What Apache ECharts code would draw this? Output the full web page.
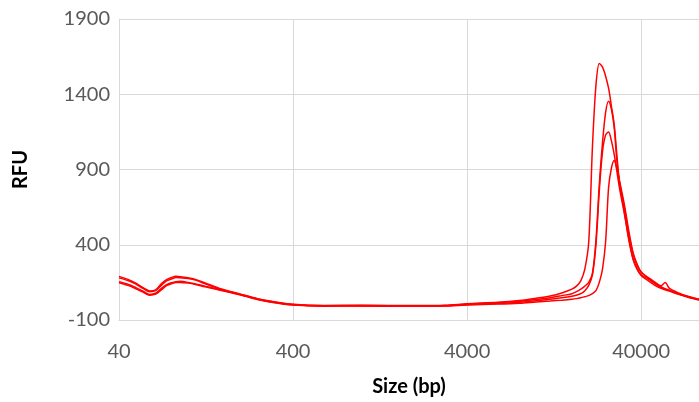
<!DOCTYPE html>
<html>
<head>
<meta charset="utf-8">
<script src="https://cdn.jsdelivr.net/npm/echarts@6/dist/echarts.min.js"></script>
<style>
  html, body { margin: 0; padding: 0; background: #fff; }
  #chart { width: 699px; height: 402px; }
</style>
</head>
<body>
<div id="chart"></div>
<script>
// fragment size (bp), shared by all four traces
const sizes = [40, 45, 50, 55, 60, 65, 70, 75, 80, 85, 90, 100, 110, 125, 150, 175, 200, 250, 300, 400,
  600, 1000, 2000, 3000, 4000, 6000, 8000, 10000, 12000, 14000, 16000, 17000, 18000, 19000, 20000,
  21000, 22000, 23000, 24000, 25000, 26000, 27000, 28000, 29000, 30000, 32000, 34000, 36000, 38000,
  40000, 44000, 48000, 52000, 55000, 58000, 65000, 75000, 86000];

// RFU per trace
const traceA = [190, 170, 145, 115, 93, 100, 140, 168, 182, 190, 188, 180, 170, 146, 112, 90, 72, 42, 25, 5,
  -3, -2, -4, -2, 8, 18, 30, 45, 60, 80, 105, 125, 160, 240, 420,
  1050, 1460, 1605, 1580, 1520, 1440, 1320, 1200, 1000, 820, 620, 430, 300, 235,
  200, 172, 145, 122, 108, 98, 76, 54, 37];
const traceB = [180, 162, 138, 110, 88, 95, 130, 160, 172, 182, 180, 175, 165, 140, 108, 86, 70, 40, 23, 3,
  -5, -4, -6, -4, 5, 14, 24, 36, 48, 62, 75, 88, 105, 125, 150,
  210, 430, 800, 1080, 1280, 1354, 1300, 1180, 960, 820, 650, 470, 335, 262,
  215, 182, 152, 128, 150, 112, 82, 57, 38];
const traceC = [155, 138, 115, 92, 70, 78, 110, 135, 148, 155, 157, 150, 140, 125, 104, 84, 68, 38, 20, 1,
  -6, -6, -7, -6, 3, 10, 18, 28, 38, 48, 58, 65, 75, 95, 130,
  200, 400, 760, 1020, 1130, 1150, 1090, 1000, 890, 780, 610, 440, 305, 240,
  195, 160, 130, 110, 100, 92, 72, 50, 32];
const traceD = [148, 130, 108, 85, 65, 72, 100, 128, 140, 150, 150, 145, 136, 120, 100, 82, 66, 36, 18, -1,
  -8, -7, -9, -7, 0, 6, 12, 20, 26, 32, 38, 42, 48, 55, 62,
  75, 95, 150, 240, 420, 780, 910, 960, 910, 830, 670, 490, 345, 268,
  220, 178, 142, 116, 104, 96, 74, 52, 34];

// x ticks (bp) and y ticks (RFU)
const xTicks = [40, 400, 4000, 40000];
const yTicks = [-100, 400, 900, 1400, 1900];

const xBase = xTicks[0];
const xMaxBp = 86000;
const yOffset = -yTicks[0]; // shift so axis min is 0

function toPoints(vals) {
  return sizes.map((s, i) => [Math.log10(s / xBase), vals[i] + yOffset]);
}

const chart = echarts.init(document.getElementById('chart'));
const gridColor = '#d9d9d9';
const labelColor = '#595959';
const font = 'Lato, "Open Sans", sans-serif';

chart.setOption({
  animation: false,
  grid: { left: 119, right: 0, top: 19, bottom: 80 },
  xAxis: {
    type: 'value',
    min: 0,
    max: Math.log10(xMaxBp / xBase),
    interval: 1,
    name: 'Size (bp)',
    nameLocation: 'middle',
    nameGap: 57,
    nameTextStyle: { fontFamily: font, fontSize: 20, fontWeight: 'bold', color: '#000' },
    axisLine: { show: true, lineStyle: { color: gridColor } },
    axisTick: { show: false },
    splitLine: { show: true, lineStyle: { color: gridColor } },
    axisLabel: {
      showMaxLabel: false,
      margin: 22,
      fontFamily: font, fontSize: 20, color: labelColor,
      formatter: v => String(Math.round(xBase * Math.pow(10, v)))
    }
  },
  yAxis: {
    type: 'value',
    min: 0,
    max: yTicks[yTicks.length - 1] + yOffset,
    interval: yTicks[1] - yTicks[0],
    name: 'RFU',
    nameLocation: 'middle',
    nameGap: 88,
    nameTextStyle: { fontFamily: font, fontSize: 20, fontWeight: 'bold', color: '#000' },
    axisLine: { show: true, lineStyle: { color: gridColor } },
    axisTick: { show: false },
    splitLine: { show: true, lineStyle: { color: gridColor } },
    axisLabel: {
      margin: 9,
      fontFamily: font, fontSize: 20, color: labelColor,
      formatter: v => String(v - yOffset)
    }
  },
  series: [traceA, traceB, traceC, traceD].map(t => ({
    type: 'line',
    data: toPoints(t),
    showSymbol: false,
    smooth: 0.3,
    lineStyle: { color: '#ff0000', width: 1.5 },
    itemStyle: { color: '#ff0000' }
  }))
});
</script>
</body>
</html>
